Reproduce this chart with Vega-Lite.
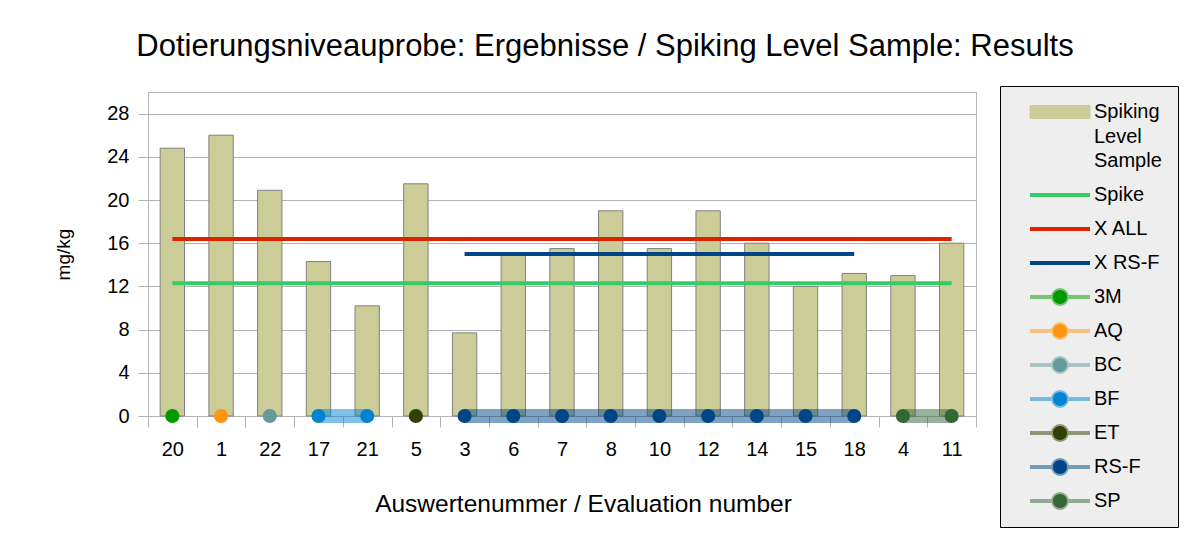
{
  "$schema": "https://vega.github.io/schema/vega-lite/v6.json",
  "width": 828,
  "height": 324,
  "autosize": {"type": "none"},
  "padding": {"left": 148, "top": 92, "right": 223, "bottom": 127},
  "background": "white",
  "title": {
    "text": "Dotierungsniveauprobe: Ergebnisse / Spiking Level Sample: Results",
    "fontSize": 31,
    "font": "Liberation Sans",
    "fontWeight": "normal",
    "color": "black",
    "anchor": "middle",
    "dx": 43,
    "offset": -1,
    "baseline": "alphabetic"
  },
  "datasets": {
    "bars": [
      {"eval": 20, "value": 24.8, "lab": "3M"},
      {"eval": 1, "value": 26.0, "lab": "AQ"},
      {"eval": 22, "value": 20.9, "lab": "BC"},
      {"eval": 17, "value": 14.3, "lab": "BF"},
      {"eval": 21, "value": 10.2, "lab": "BF"},
      {"eval": 5, "value": 21.5, "lab": "ET"},
      {"eval": 3, "value": 7.7, "lab": "RS-F"},
      {"eval": 6, "value": 15.0, "lab": "RS-F"},
      {"eval": 7, "value": 15.5, "lab": "RS-F"},
      {"eval": 8, "value": 19.0, "lab": "RS-F"},
      {"eval": 10, "value": 15.5, "lab": "RS-F"},
      {"eval": 12, "value": 19.0, "lab": "RS-F"},
      {"eval": 14, "value": 16.0, "lab": "RS-F"},
      {"eval": 15, "value": 12.0, "lab": "RS-F"},
      {"eval": 18, "value": 13.2, "lab": "RS-F"},
      {"eval": 4, "value": 13.0, "lab": "SP"},
      {"eval": 11, "value": 16.0, "lab": "SP"}
    ],
    "refs": [
      {"eval": 20, "value": 12.3, "series": "Spike"},
      {"eval": 11, "value": 12.3, "series": "Spike"},
      {"eval": 20, "value": 16.4, "series": "X ALL"},
      {"eval": 11, "value": 16.4, "series": "X ALL"},
      {"eval": 3, "value": 15.0, "series": "X RS-F"},
      {"eval": 18, "value": 15.0, "series": "X RS-F"}
    ]
  },
  "encoding": {
    "x": {
      "field": "eval",
      "type": "ordinal",
      "sort": [20, 1, 22, 17, 21, 5, 3, 6, 7, 8, 10, 12, 14, 15, 18, 4, 11],
      "scale": {"paddingInner": 0, "paddingOuter": 0},
      "axis": {
        "title": "Auswertenummer / Evaluation number",
        "titleFontSize": 24.5,
        "titleX": 435,
        "labelAngle": 0,
        "tickBand": "extent",
        "tickSize": 11,
        "labelPadding": 12,
        "titlePadding": 33,
        "grid": false
      }
    },
    "color": {
      "field": "series",
      "type": "nominal",
      "title": null,
      "scale": {
        "domain": ["Spiking Level Sample", "Spike", "X ALL", "X RS-F", "3M", "AQ", "BC", "BF", "ET", "RS-F", "SP"],
        "range": ["#cccc99", "#33cc66", "#dd2200", "#004586", "#009900", "#ff950e", "#669999", "#0084d1", "#314004", "#004586", "#336633"]
      },
      "legend": {
        "title": null,
        "orient": "none",
        "legendX": 852,
        "legendY": -6,
        "padding": 16,
        "fillColor": "#eeeeee",
        "strokeColor": "#000000",
        "symbolOffset": 34,
        "labelOffset": 24,
        "rowPadding": 14,
        "symbolSize": 3600,
        "labelFontSize": 20,
        "labelFont": "Liberation Sans",
        "labelColor": "black",
        "labelLimit": 300,
        "labelExpr": "datum.label === 'Spiking Level Sample' ? ['Spiking', 'Level', 'Sample'] : datum.label",
        "encode": {
          "labels": {"update": {"lineHeight": {"value": 24.5}}},
          "symbols": {
            "update": {
              "shape": {"signal": "datum.value === 'Spiking Level Sample' ? 'M-1,-0.2167H1V0.2167H-1Z' : (indexof(['Spike', 'X ALL', 'X RS-F'], datum.value) >= 0 ? 'M-1,0H1' : 'M-1,0H1M0.2333,0C0.2333,0.1289 0.1289,0.2333 0,0.2333C-0.1289,0.2333 -0.2333,0.1289 -0.2333,0C-0.2333,-0.1289 -0.1289,-0.2333 0,-0.2333C0.1289,-0.2333 0.2333,-0.1289 0.2333,0Z')"},
              "size": {"value": 3600},
              "fill": {"signal": "indexof(['Spike', 'X ALL', 'X RS-F'], datum.value) >= 0 ? 'transparent' : scale('color', datum.value)"},
              "stroke": {"signal": "datum.value === 'Spiking Level Sample' ? '#808080' : scale('color', datum.value)"},
              "strokeWidth": {"signal": "datum.value === 'Spiking Level Sample' ? 1 : 4"},
              "strokeOpacity": {"signal": "indexof(['Spike', 'X ALL', 'X RS-F', 'Spiking Level Sample'], datum.value) >= 0 ? 1 : 0.5"},
              "strokeJoin": {"value": "round"},
              "fillOpacity": {"value": 1},
              "opacity": {"value": 1}
            }
          }
        }
      }
    }
  },
  "layer": [
    {
      "data": {"name": "bars"},
      "mark": {"type": "bar", "width": {"band": 0.5}, "stroke": "#808080", "strokeWidth": 1},
      "encoding": {
        "y": {
          "field": "value",
          "type": "quantitative",
          "scale": {"domain": [0, 30], "nice": false},
          "axis": {
            "title": "mg/kg",
            "values": [0, 2, 4, 6, 8, 10, 12, 14, 16, 18, 20, 22, 24, 26, 28, 30],
            "labelExpr": "datum.value % 4 == 0 && datum.value < 30 ? datum.label : ''",
            "tickSize": 10,
            "labelPadding": 9,
            "titlePadding": 33,
            "grid": true
          }
        },
        "color": {"datum": "Spiking Level Sample", "type": "nominal", "title": null}
      }
    },
    {
      "data": {"name": "refs"},
      "mark": {"type": "line", "strokeWidth": 4, "strokeCap": "butt"},
      "encoding": {
        "y": {"field": "value", "type": "quantitative"}
      }
    },
    {
      "data": {"name": "bars"},
      "mark": {"type": "line", "strokeWidth": 14, "strokeCap": "butt", "opacity": 0.5},
      "encoding": {
        "y": {"datum": 0, "type": "quantitative"},
        "detail": {"field": "lab"},
        "color": {"field": "lab", "type": "nominal", "title": null}
      }
    },
    {
      "data": {"name": "bars"},
      "mark": {"type": "point", "filled": true, "size": 200, "opacity": 1},
      "encoding": {
        "y": {"datum": 0, "type": "quantitative"},
        "color": {"field": "lab", "type": "nominal", "title": null}
      }
    }
  ],
  "config": {
    "font": "Liberation Sans",
    "view": {"stroke": "#b3b3b3"},
    "axis": {
      "domainColor": "#b3b3b3",
      "tickColor": "#b3b3b3",
      "gridColor": "#b3b3b3",
      "labelFontSize": 20,
      "titleFontSize": 19,
      "labelColor": "black",
      "titleColor": "black",
      "titleFontWeight": "normal",
      "labelFont": "Liberation Sans",
      "titleFont": "Liberation Sans"
    }
  }
}
